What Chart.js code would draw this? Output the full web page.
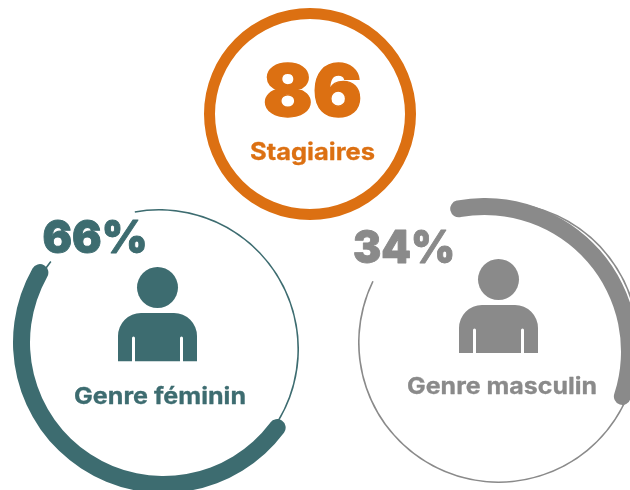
<!DOCTYPE html>
<html lang="fr">
<head>
<meta charset="utf-8">
<title>Stagiaires</title>
<script src="https://cdn.jsdelivr.net/npm/chart.js@4"></script>
<style>
html,body{margin:0;padding:0;width:630px;height:490px;overflow:hidden;background:#fff}
canvas{position:absolute;display:block}
svg{position:absolute;left:0;top:0}
text{font-family:Inter,"Open Sans",sans-serif;stroke-linejoin:round}
</style>
</head>
<body>
<svg id="ov" width="630" height="490" style="z-index:5">
  <g fill="#3d6c70" stroke="#3d6c70" stroke-width="0">
    <circle cx="157.5" cy="287.5" r="20.5"/>
    <path d="M118 361.3V336a23 23 0 0 1 23-23h33a23 23 0 0 1 23 23v25.3h-14V338a1.5 1.5 0 0 0-3 0v23.3h-45V338a1.5 1.5 0 0 0-3 0v23.3z"/>
    <text x="95" y="252.5" font-size="45" font-weight="900" stroke-width="0.9" text-anchor="middle" textLength="105" lengthAdjust="spacingAndGlyphs">66%</text>
    <text x="160" y="403.5" font-size="23" font-weight="700" stroke-width="0.3" text-anchor="middle" textLength="172" lengthAdjust="spacingAndGlyphs">Genre féminin</text>
  </g>
  <g fill="#8a8a8a" stroke="#8a8a8a" stroke-width="0">
    <circle cx="498.5" cy="279.5" r="20.5"/>
    <path d="M459 353V328a23 23 0 0 1 23-23h33a23 23 0 0 1 23 23v25h-14V330a1.5 1.5 0 0 0-3 0v23h-45V330a1.5 1.5 0 0 0-3 0v23z"/>
    <text x="404" y="262.5" font-size="45" font-weight="900" stroke-width="0.9" text-anchor="middle" textLength="102" lengthAdjust="spacingAndGlyphs">34%</text>
    <text x="502" y="393.5" font-size="23" font-weight="700" stroke-width="0.3" text-anchor="middle" textLength="190" lengthAdjust="spacingAndGlyphs">Genre masculin</text>
  </g>
  <g fill="#dc7012" stroke="#dc7012" stroke-width="0">
    <text x="312.5" y="116" font-size="72" font-weight="900" stroke-width="1.4" text-anchor="middle" textLength="99" lengthAdjust="spacingAndGlyphs">86</text>
    <text x="312.5" y="160" font-size="24" font-weight="700" stroke-width="0.3" text-anchor="middle" textLength="125" lengthAdjust="spacingAndGlyphs">Stagiaires</text>
  </g>
</svg>
<script>
// Values
const totalTrainees = [86];
const genderLabels = ['Genre féminin', 'Genre masculin'];
const genderPercent = [66, 34];
// Drawn sweep of each ring, in degrees [arc, gap]
const feminineThick = [179.5, 180.5];
const feminineThin = [319, 41];
const masculineThick = [125, 235];
const masculineThin = [311, 49];

const TEAL = '#3d6c70', GREY = '#8a8a8a', ORANGE = '#dc7012';

function ring(cx, cy, outer, width, data, rotation, color, rounded, z) {
  const c = document.createElement('canvas');
  const size = outer * 2;
  c.width = size; c.height = size;
  c.style.left = (cx - outer) + 'px';
  c.style.top = (cy - outer) + 'px';
  c.style.zIndex = z;
  document.body.appendChild(c);
  return new Chart(c, {
    type: 'doughnut',
    data: { labels: data.map((_, i) => 'p' + i),
      datasets: [{ data, backgroundColor: [color, 'rgba(0,0,0,0)'], borderWidth: 0,
        borderRadius: rounded ? width / 2 : 0, spacing: 0 }] },
    options: {
      responsive: false, animation: false, rotation, cutout: outer - width,
      layout: { padding: 0 },
      plugins: { legend: { display: false }, tooltip: { enabled: false } }
    }
  });
}

ring(310, 113.5, 106, 11, totalTrainees, 0, ORANGE, false, 1);
ring(158.5, 348.5, 140, 1.6, feminineThin, -10, TEAL, false, 1);
ring(163.5, 342, 150.5, 17, feminineThick, 123.4, TEAL, true, 2);
ring(498, 342, 140.5, 1.6, masculineThin, -15, GREY, false, 1);
ring(484, 351, 153.5, 17, masculineThick, -13.6, GREY, true, 2);
</script>
</body>
</html>
